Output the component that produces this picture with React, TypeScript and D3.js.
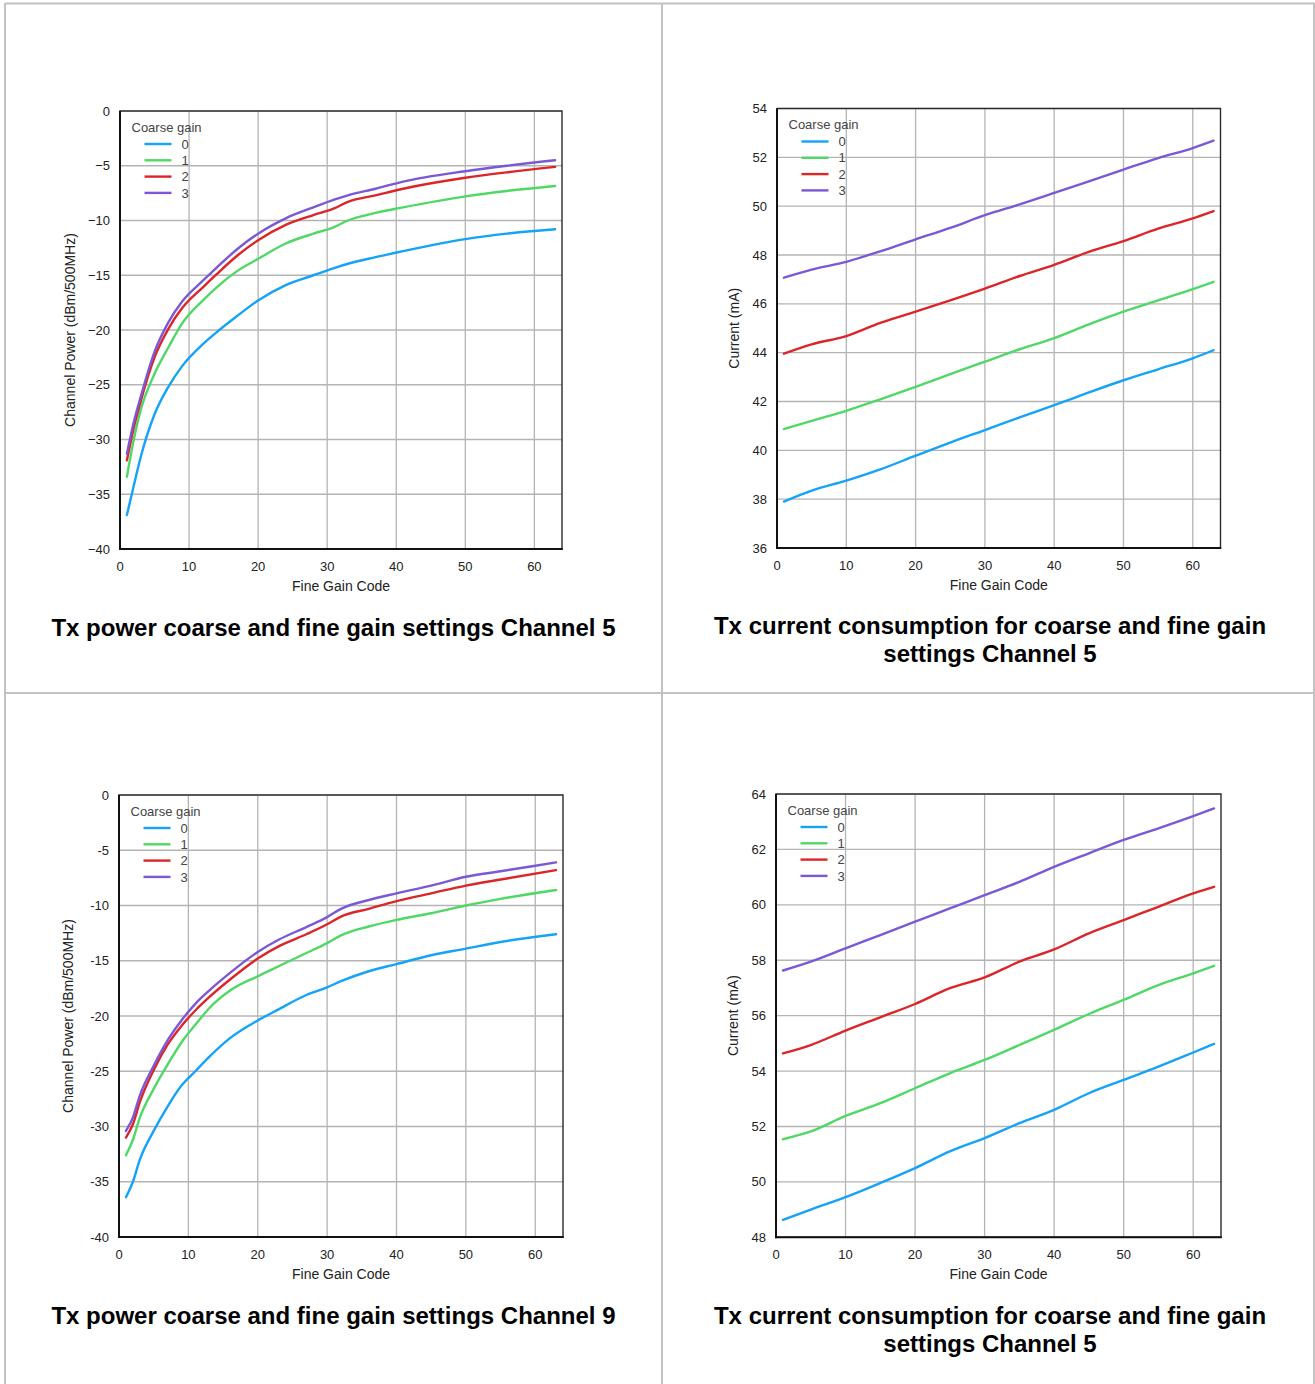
import React from "react";
import * as d3 from "d3";

// ---------- DATA ----------
const coarseGains = ["0", "1", "2", "3"];
const xTicks = [0, 10, 20, 30, 40, 50, 60];

// Chart 1: Tx power Channel 5
const ch5PowerCodes = [1, 2, 3, 5, 7, 9, 12, 14, 17, 20, 24, 28, 31, 33, 37, 41, 50, 56, 63];
const ch5PowerG0 = [-36.9, -34.2, -31.6, -27.7, -25.2, -23.3, -21.3, -20.2, -18.7, -17.3, -15.9, -15.0, -14.35, -13.95, -13.35, -12.8, -11.7, -11.2, -10.8];
const ch5PowerG1 = [-33.4, -30.0, -27.3, -24.0, -21.6, -19.4, -17.3, -16.1, -14.6, -13.5, -12.1, -11.2, -10.6, -10.0, -9.3, -8.8, -7.8, -7.3, -6.85];
const ch5PowerG2 = [-31.9, -28.9, -26.5, -22.5, -19.9, -18.0, -16.1, -14.9, -13.2, -11.8, -10.4, -9.5, -8.9, -8.3, -7.7, -7.1, -6.1, -5.6, -5.1];
const ch5PowerG3 = [-31.3, -28.4, -26.1, -22.0, -19.3, -17.4, -15.5, -14.3, -12.6, -11.2, -9.8, -8.8, -8.1, -7.7, -7.1, -6.45, -5.5, -5.0, -4.5];

// Chart 3: Tx power Channel 9
const ch9PowerCodes = [1, 2, 3, 5, 7, 9, 11, 13, 16, 20, 23, 27, 30, 32, 36, 40, 45, 50, 55, 63];
const ch9PowerG0 = [-36.4, -35.0, -33.0, -30.4, -28.2, -26.3, -25.0, -23.7, -22.0, -20.4, -19.4, -18.1, -17.4, -16.85, -15.95, -15.3, -14.5, -13.9, -13.3, -12.6];
const ch9PowerG1 = [-32.6, -31.2, -29.2, -26.6, -24.4, -22.4, -20.8, -19.3, -17.7, -16.4, -15.5, -14.3, -13.4, -12.7, -11.9, -11.3, -10.7, -10.0, -9.4, -8.6];
const ch9PowerG2 = [-31.0, -29.8, -27.8, -24.9, -22.6, -20.9, -19.5, -18.3, -16.7, -14.8, -13.7, -12.6, -11.7, -11.0, -10.3, -9.6, -8.9, -8.2, -7.65, -6.8];
const ch9PowerG3 = [-30.4, -29.2, -27.2, -24.5, -22.2, -20.4, -18.9, -17.7, -16.1, -14.2, -13.1, -11.95, -11.05, -10.3, -9.5, -8.9, -8.2, -7.4, -6.9, -6.1];

// Chart 2 & 4: Tx current
const currentCodes = [1, 5, 10, 15, 20, 25, 30, 35, 40, 45, 50, 55, 60, 63];
const curAG0 = [37.9, 38.35, 38.76, 39.23, 39.78, 40.32, 40.83, 41.35, 41.85, 42.37, 42.87, 43.32, 43.77, 44.1];
const curAG1 = [40.87, 41.21, 41.62, 42.1, 42.6, 43.12, 43.63, 44.14, 44.6, 45.16, 45.68, 46.14, 46.6, 46.9];
const curAG2 = [43.96, 44.34, 44.68, 45.23, 45.68, 46.14, 46.62, 47.14, 47.6, 48.13, 48.57, 49.08, 49.5, 49.8];
const curAG3 = [47.07, 47.4, 47.72, 48.16, 48.64, 49.11, 49.63, 50.07, 50.54, 51.02, 51.5, 51.97, 52.38, 52.68];

const curBG0 = [48.63, 49.0, 49.45, 49.96, 50.5, 51.1, 51.58, 52.12, 52.6, 53.2, 53.68, 54.16, 54.67, 54.98];
const curBG1 = [51.54, 51.82, 52.38, 52.84, 53.38, 53.92, 54.4, 54.94, 55.49, 56.06, 56.57, 57.1, 57.53, 57.8];
const curBG2 = [54.64, 54.94, 55.46, 55.94, 56.42, 56.99, 57.38, 57.95, 58.39, 58.97, 59.45, 59.93, 60.41, 60.65];
const curBG3 = [57.63, 57.95, 58.43, 58.91, 59.39, 59.87, 60.35, 60.83, 61.37, 61.86, 62.34, 62.76, 63.2, 63.48];

const powerTicks = [0, -5, -10, -15, -20, -25, -30, -35, -40];
const curATicks = [36, 38, 40, 42, 44, 46, 48, 50, 52, 54];
const curBTicks = [48, 50, 52, 54, 56, 58, 60, 62, 64];

const titles = [
  ["Tx power coarse and fine gain settings Channel 5"],
  ["Tx current consumption for coarse and fine gain", "settings Channel 5"],
  ["Tx power coarse and fine gain settings Channel 9"],
  ["Tx current consumption for coarse and fine gain", "settings Channel 5"],
];

// ---------- STYLE ----------
const COLORS = ["#14a3f7", "#4fd866", "#dc2529", "#7a58d6"];
const FONT = "'Liberation Sans', Arial, Helvetica, sans-serif";

type PanelProps = {
  left: number; right: number; top: number; bottom: number;
  yDomain: [number, number];
  yTicks: number[];
  yFmt: (v: number) => string;
  yTitle: string;
  yTitleX: number;
  codes: number[];
  series: number[][];
};

function Panel(p: PanelProps) {
  const x = d3.scaleLinear().domain([0, 64]).range([p.left, p.right]);
  const y = d3.scaleLinear().domain(p.yDomain).range([p.bottom, p.top]);
  const line = d3
    .line<[number, number]>()
    .x((d) => x(d[0]))
    .y((d) => y(d[1]))
    .curve(d3.curveMonotoneX);
  const cy = (p.top + p.bottom) / 2;
  const cx = (p.left + p.right) / 2;
  return (
    <g fontFamily={FONT}>
      {/* grid */}
      {p.yTicks.map((t) => (
        <line key={"gy" + t} x1={p.left} x2={p.right} y1={y(t)} y2={y(t)} stroke="#b4b4b4" strokeWidth={1.3} />
      ))}
      {xTicks.map((t) => (
        <line key={"gx" + t} x1={x(t)} x2={x(t)} y1={p.top} y2={p.bottom} stroke="#b4b4b4" strokeWidth={1.3} />
      ))}
      {/* series */}
      {p.series.map((vals, i) => (
        <path
          key={"s" + i}
          d={line(p.codes.map((c, k) => [c, vals[k]] as [number, number])) || ""}
          fill="none"
          stroke={COLORS[i]}
          strokeWidth={2.4}
          strokeLinejoin="round"
          strokeLinecap="round"
        />
      ))}
      {/* frame */}
      <rect x={p.left} y={p.top} width={p.right - p.left} height={p.bottom - p.top} fill="none" stroke="#2a2a2a" strokeWidth={1.4} />
      <line x1={p.left} x2={p.left} y1={p.top} y2={p.bottom + 1} stroke="#111" strokeWidth={2} />
      <line x1={p.left - 1} x2={p.right + 0.7} y1={p.bottom} y2={p.bottom} stroke="#111" strokeWidth={2} />
      {/* y ticks */}
      {p.yTicks.map((t) => (
        <text key={"ty" + t} x={p.left - 10} y={y(t)} dy="0.35em" textAnchor="end" fontSize={13} fill="#222">
          {p.yFmt(t)}
        </text>
      ))}
      {/* x ticks */}
      {xTicks.map((t) => (
        <text key={"tx" + t} x={x(t)} y={p.bottom + 21.5} textAnchor="middle" fontSize={13} fill="#222">
          {t}
        </text>
      ))}
      <text x={cx} y={p.bottom + 42} textAnchor="middle" fontSize={14} fill="#222">
        Fine Gain Code
      </text>
      <text
        transform={`translate(${p.yTitleX + 5},${cy}) rotate(-90)`}
        textAnchor="middle"
        fontSize={14}
        fill="#222"
      >
        {p.yTitle}
      </text>
      {/* legend */}
      <text x={p.left + 11.5} y={p.top + 20.5} fontSize={13} fill="#444">
        Coarse gain
      </text>
      {coarseGains.map((g, i) => {
        const ly = p.top + 33 + i * 16.3;
        return (
          <g key={"lg" + g}>
            <line x1={p.left + 24.5} x2={p.left + 51.5} y1={ly} y2={ly} stroke={COLORS[i]} strokeWidth={2.4} />
            <text x={p.left + 61.5} y={ly} dy="0.36em" fontSize={13} fill="#444">
              {g}
            </text>
          </g>
        );
      })}
    </g>
  );
}

export default function App() {
  const minusFmt = (v: number) => (v < 0 ? "\u2212" + Math.abs(v) : String(v));
  const hyphenFmt = (v: number) => String(v);
  const intFmt = (v: number) => String(v);
  const titleCenters = [333.5, 990, 333.5, 990];
  const titleY = [636, 634, 1324, 1324];
  return (
    <svg
      width={1315}
      height={1384}
      style={{ position: "absolute", left: 0, top: 0, background: "#fff" }}
    >
      {/* table borders */}
      <g stroke="#c2c2c2" strokeWidth={2} fill="none">
        <line x1={5} x2={1315} y1={3.5} y2={3.5} />
        <line x1={5} x2={5} y1={3} y2={1384} />
        <line x1={662} x2={662} y1={3} y2={1384} />
        <line x1={5} x2={1315} y1={693} y2={693} />
        <line x1={1314} x2={1314} y1={3} y2={1384} />
      </g>
      <Panel
        left={120} right={562} top={111} bottom={549}
        yDomain={[-40, 0]} yTicks={powerTicks} yFmt={minusFmt}
        yTitle="Channel Power (dBm/500MHz)" yTitleX={70}
        codes={ch5PowerCodes} series={[ch5PowerG0, ch5PowerG1, ch5PowerG2, ch5PowerG3]}
      />
      <Panel
        left={777} right={1220.5} top={108.5} bottom={548}
        yDomain={[36, 54]} yTicks={curATicks} yFmt={intFmt}
        yTitle="Current (mA)" yTitleX={734}
        codes={currentCodes} series={[curAG0, curAG1, curAG2, curAG3]}
      />
      <Panel
        left={119} right={563} top={795} bottom={1237}
        yDomain={[-40, 0]} yTicks={powerTicks} yFmt={hyphenFmt}
        yTitle="Channel Power (dBm/500MHz)" yTitleX={68}
        codes={ch9PowerCodes} series={[ch9PowerG0, ch9PowerG1, ch9PowerG2, ch9PowerG3]}
      />
      <Panel
        left={776} right={1221} top={794} bottom={1237.3}
        yDomain={[48, 64]} yTicks={curBTicks} yFmt={intFmt}
        yTitle="Current (mA)" yTitleX={733}
        codes={currentCodes} series={[curBG0, curBG1, curBG2, curBG3]}
      />
      {titles.map((lines, i) => (
        <text
          key={"title" + i}
          x={titleCenters[i]}
          y={titleY[i]}
          textAnchor="middle"
          fontFamily={FONT}
          fontWeight="bold"
          fontSize={24}
          fill="#000"
        >
          {lines.map((l, k) => (
            <tspan key={k} x={titleCenters[i]} dy={k === 0 ? 0 : 28}>
              {l}
            </tspan>
          ))}
        </text>
      ))}
    </svg>
  );
}
